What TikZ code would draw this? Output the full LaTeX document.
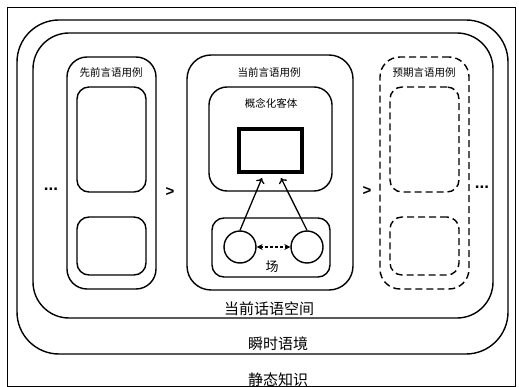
\documentclass[tikz,border=0pt]{standalone}
\usepackage{fontspec}
\newfontfamily\cjk{Noto Sans CJK SC}
\newfontfamily\symf{Liberation Sans}
\usetikzlibrary{fit,arrows.meta}
\tikzset{
  region/.style={draw, line width=1.4pt, inner sep=0pt, fit={#1}},
  bigbox/.style={rounded corners=42pt},
  midbox/.style={rounded corners=36pt},
  colbox/.style={rounded corners=20pt},
  cellbox/.style={rounded corners=12pt},
  dashbox/.style={dash pattern=on 7pt off 4pt},
  small/.style={font=\cjk\fontsize{10.5}{12}\selectfont, inner sep=0pt},
  large/.style={font=\cjk\fontsize{15}{17}\selectfont, inner sep=0pt},
  sepmark/.style={font=\symf\bfseries\fontsize{15}{16}\selectfont, inner sep=0pt},
  dotmark/.style={font=\symf\bfseries\fontsize{17}{18}\selectfont, inner sep=0pt},
  arr/.style={line width=1.3pt, -{To[length=5pt,width=9pt]}},
}
\begin{document}
\begin{tikzpicture}[x=1pt,y=-1pt]
\useasboundingbox (0,0) rectangle (519,387);
\node[draw, line width=1pt, inner sep=0pt, fit={(7,8) (515,386)}] (frame) {};
% contexts
\node[region={(17,20) (508,354)}, bigbox] (instant) {};
\node[region={(33,33) (493,318)}, midbox] (space) {};
% previous usage event
\node[region={(67,57) (156,289)}, colbox] (prev) {};
\node[region={(77,87) (146,192)}, cellbox] (prevA) {};
\node[region={(77,217) (146,275)}, cellbox] (prevB) {};
% current usage event
\node[region={(187,55) (353,290)}, rounded corners=24pt] (cur) {};
\node[region={(209,87) (332,191)}, rounded corners=18pt] (concept) {};
\node[draw, line width=3.8pt, inner sep=0pt, fit={(239,129) (302,172)}] (object) {};
\node[region={(212,218) (330,277)}, cellbox] (field) {};
\node[draw, circle, line width=1.4pt, minimum size=32pt, inner sep=0pt] (c1) at (240,247) {};
\node[draw, circle, line width=1.4pt, minimum size=32pt, inner sep=0pt] (c2) at (307,247) {};
% expected usage event
\node[region={(380,57) (469,289)}, colbox, dashbox] (next) {};
\node[region={(390,87) (459,192)}, cellbox, dashbox] (nextA) {};
\node[region={(390,217) (459,275)}, cellbox, dashbox] (nextB) {};
% labels
\node[small] (lprev) at (111,73) {先前言语用例};
\node[small] (lcur) at (269,73) {当前言语用例};
\node[small] (lconcept) at (271,103) {概念化客体};
\node[small] (lnext) at (424,73) {预期言语用例};
\node[font=\cjk\fontsize{13}{14}\selectfont, inner sep=0pt] (lfield) at (272,267) {场};
\node[large] (lspace) at (269,309) {当前话语空间};
\node[large] (linstant) at (278,344) {瞬时语境};
\node[large] (lstatic) at (278,380) {静态知识};
% separators
\node[dotmark] (dotsL) at (51,189) {...};
\node[sepmark] (gt1) at (170,192) {>};
\node[sepmark] (gt2) at (367,191) {>};
\node[dotmark] (dotsR) at (482,187) {...};
% arrows
\coordinate (t1) at (262,178);
\coordinate (t2) at (281,178);
\draw[arr] (c1.north) -- (t1);
\draw[arr] (c2.north) -- (t2);
\draw[line width=1.3pt, dash pattern=on 3pt off 2pt, {Stealth[length=6pt,width=6pt]}-{Stealth[length=6pt,width=6pt]}] (c1.east) -- (c2.west);
\end{tikzpicture}
\end{document}
